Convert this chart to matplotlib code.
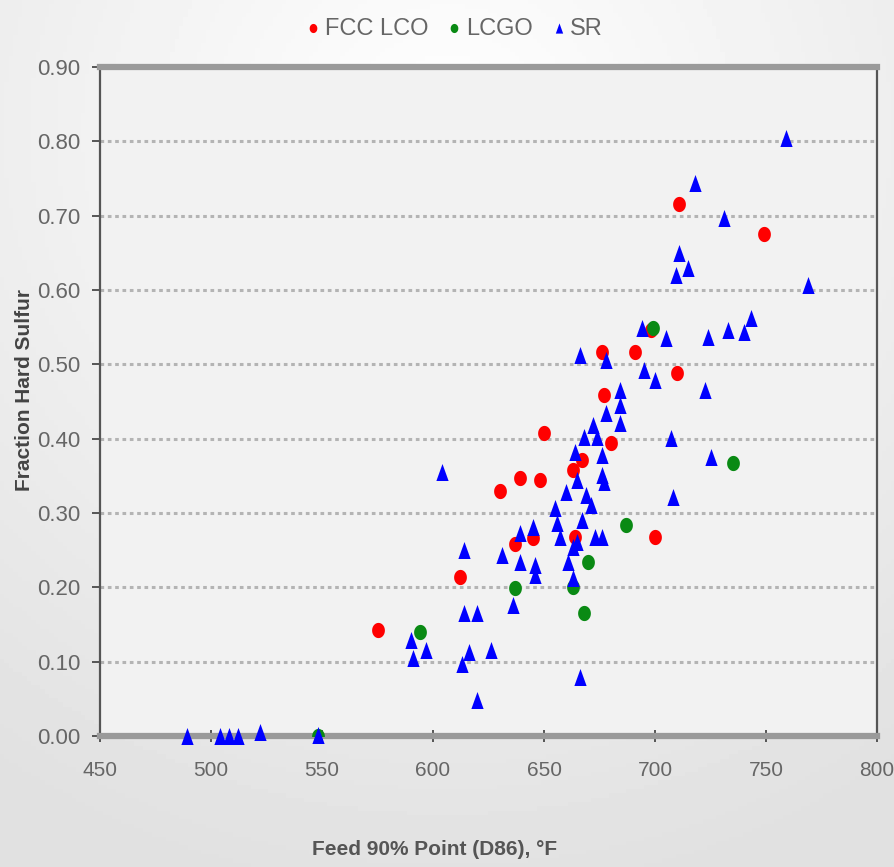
import numpy as np
import matplotlib
matplotlib.use("Agg")
import matplotlib.pyplot as plt
from matplotlib.path import Path
from matplotlib.ticker import FormatStrFormatter

plt.rcParams['font.family'] = ['Liberation Sans', 'DejaVu Sans']

# Feed 90% point (D86), degF  vs  fraction of hard sulfur
fcc_lco_x = [575, 612, 630, 639, 648, 650, 637, 645, 663, 667, 664, 677, 680,
             676, 691, 710, 700, 711, 749, 698]
fcc_lco_y = [0.143, 0.214, 0.330, 0.347, 0.345, 0.408, 0.258, 0.266, 0.358, 0.371,
             0.268, 0.459, 0.394, 0.517, 0.517, 0.489, 0.268, 0.716, 0.676, 0.546]

lcgo_x = [594, 548, 637, 663, 670, 687, 668, 699, 735]
lcgo_y = [0.140, 0.000, 0.199, 0.200, 0.234, 0.284, 0.166, 0.549, 0.367]

sr_x = [489, 504, 508, 512, 522, 548,
        590, 591, 597, 614, 620, 616, 613, 626, 620, 636, 666,
        604, 614, 631, 639, 639, 645, 646, 646,
        655, 656, 657, 660, 661, 663, 663, 665, 664, 665, 667, 669, 671, 668,
        672, 674, 676, 676, 677, 678, 684, 684, 684, 673, 676,
        666, 678, 695, 700, 694, 705, 707, 708, 722.5, 724, 733, 740, 743, 725,
        718, 731, 711, 715, 709.5, 759, 769]
sr_y = [0.000, 0.000, 0.000, 0.000, 0.005, 0.002,
        0.129, 0.105, 0.116, 0.166, 0.166, 0.113, 0.097, 0.116, 0.048, 0.176, 0.079,
        0.355, 0.250, 0.244, 0.234, 0.273, 0.281, 0.230, 0.217,
        0.307, 0.287, 0.268, 0.328, 0.234, 0.254, 0.212, 0.345, 0.382, 0.261,
        0.291, 0.324, 0.311, 0.402, 0.419, 0.402, 0.378, 0.351, 0.342, 0.435,
        0.466, 0.445, 0.421, 0.268, 0.268,
        0.513, 0.506, 0.493, 0.479, 0.549, 0.536, 0.401, 0.322, 0.466, 0.537,
        0.546, 0.544, 0.563, 0.376, 0.744, 0.697, 0.650, 0.630, 0.620, 0.805, 0.607]

x_ticks = [450, 500, 550, 600, 650, 700, 750, 800]
y_ticks = [0.0, 0.1, 0.2, 0.3, 0.4, 0.5, 0.6, 0.7, 0.8, 0.9]

# slightly tall markers: an oval dot and a narrow triangle
t = np.linspace(0, 2 * np.pi, 40)
oval = Path(np.column_stack([0.42 * np.cos(t), 0.5 * np.sin(t)]), closed=True)
tall_tri = [(-0.36, -0.5), (0.36, -0.5), (0.0, 0.5)]

fig = plt.figure(figsize=(8.95, 8.67), dpi=100)

# soft light backdrop behind the plot
bg = fig.add_axes([0, 0, 1, 1], zorder=-5)
gy, gx = np.mgrid[0:1:200j, 0:1:200j]
r = np.sqrt(((gx - 0.5) / 0.9) ** 2 + ((gy - 0.15) / 0.9) ** 2)
bg.imshow(1 - 0.12 * np.clip(r, 0, 1), cmap='gray', vmin=0, vmax=1,
          extent=[0, 1, 0, 1], aspect='auto')
bg.axis('off')

ax = fig.add_axes([0.1117, 0.1511, 0.8683, 0.7716])
ax.set_facecolor('#f2f2f2')

ax.scatter(fcc_lco_x, fcc_lco_y, s=120, marker=oval, color='#ff0000', label='FCC LCO',
           linewidths=0, zorder=3)
ax.scatter(lcgo_x, lcgo_y, s=120, marker=oval, color='#0a8a14', label='LCGO',
           linewidths=0, zorder=4)
ax.scatter(sr_x, sr_y, s=150, marker=tall_tri, color='#0000ff', label='SR',
           linewidths=0, zorder=5, clip_on=False)

ax.set_xlim(450, 800)
ax.set_ylim(0, 0.9)
ax.set_xticks(x_ticks)
ax.set_yticks(y_ticks)
ax.yaxis.set_major_formatter(FormatStrFormatter('%.2f'))

ax.grid(axis='y', color='#b4b4b4', linestyle=(0, (1.2, 1.2)), linewidth=2.2, zorder=1)
ax.set_axisbelow(True)

for side in ('top', 'bottom'):
    ax.spines[side].set_color('#9a9a9a')
    ax.spines[side].set_linewidth(4.5)
for side in ('left', 'right'):
    ax.spines[side].set_color('#555555')
    ax.spines[side].set_linewidth(1.6)

ax.tick_params(axis='y', direction='out', length=6, width=1.4, color='#555555',
               labelsize=16, labelcolor='#666666', pad=8)
ax.tick_params(axis='x', direction='inout', length=8, width=1.4, color='#555555',
               labelsize=15, labelcolor='#666666', pad=14)

fig.text(0.027, 0.55, 'Fraction Hard Sulfur', rotation=90, ha='center', va='center',
         fontsize=15, fontweight='bold', color='#444444')
fig.text(0.485, 0.02, 'Feed 90% Point (D86), °F', ha='center', va='center',
         fontsize=15, fontweight='bold', color='#555555')

fig.legend(loc='center', bbox_to_anchor=(0.505, 0.967), ncol=3, frameon=False,
           markerscale=0.6, handletextpad=0.0, columnspacing=0.6, handlelength=1.0,
           fontsize=17, labelcolor='#666666')

fig.savefig('out.png', dpi=100)
